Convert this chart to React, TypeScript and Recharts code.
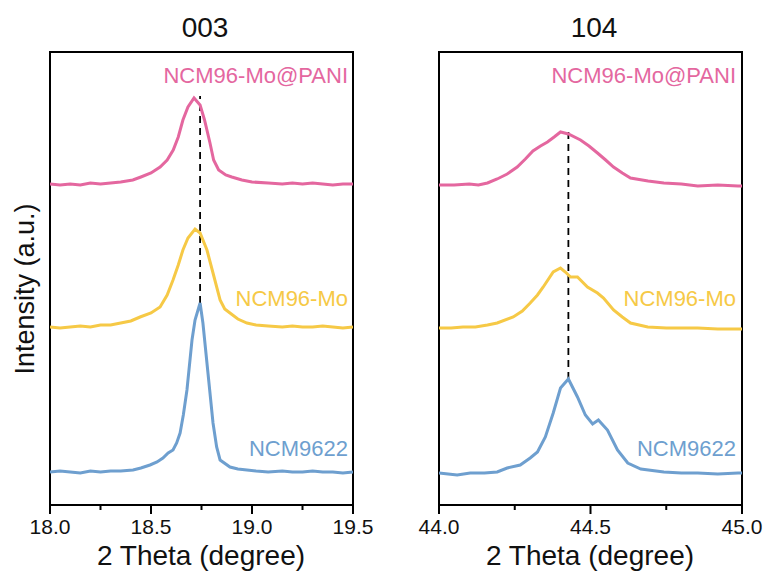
import React from "react";
import { LineChart, Line, XAxis, YAxis, ReferenceLine, ReferenceArea } from "recharts";

// 2θ (degree), intensity (a.u., stacked with offsets)
const pink003: [number, number][] = [
  [18.0, 321], [18.05, 320], [18.1, 321], [18.15, 320], [18.2, 322], [18.25, 321], [18.3, 322],
  [18.35, 323], [18.41, 325], [18.45, 328], [18.5, 332], [18.545, 338], [18.58, 345], [18.61, 355],
  [18.635, 368], [18.658, 385], [18.683, 398], [18.713, 407], [18.743, 400], [18.765, 385],
  [18.792, 362], [18.81, 345], [18.835, 335], [18.87, 330], [18.9, 328], [18.95, 325], [19.0, 323],
  [19.08, 322], [19.15, 321], [19.2, 322], [19.25, 321], [19.3, 322], [19.35, 321], [19.4, 320],
  [19.45, 321], [19.5, 321],
];
const yellow003: [number, number][] = [
  [18.0, 178], [18.05, 177], [18.1, 178], [18.15, 179], [18.2, 178], [18.25, 180], [18.3, 180],
  [18.35, 182], [18.4, 184], [18.446, 188], [18.5, 192], [18.545, 198], [18.58, 210], [18.609, 225],
  [18.635, 240], [18.658, 255], [18.683, 267], [18.718, 276], [18.743, 272], [18.777, 255],
  [18.807, 232], [18.842, 205], [18.865, 196], [18.891, 192], [18.93, 186], [18.975, 182],
  [19.02, 180], [19.08, 179], [19.15, 178], [19.2, 179], [19.25, 178], [19.3, 178], [19.35, 179],
  [19.4, 178], [19.45, 177], [19.5, 178],
];
const blue003: [number, number][] = [
  [18.0, 33], [18.05, 34], [18.1, 33], [18.15, 32], [18.2, 34], [18.25, 33], [18.3, 34], [18.35, 34],
  [18.411, 35], [18.45, 37], [18.495, 40], [18.53, 43], [18.559, 47], [18.585, 52], [18.609, 55],
  [18.627, 62], [18.644, 72], [18.66, 90], [18.678, 115], [18.703, 165], [18.718, 185], [18.743, 202],
  [18.757, 182], [18.782, 132], [18.807, 82], [18.825, 58], [18.842, 45], [18.891, 38], [18.93, 36],
  [18.975, 35], [19.02, 34], [19.08, 33], [19.15, 34], [19.2, 33], [19.25, 33], [19.3, 34],
  [19.35, 33], [19.4, 33], [19.45, 32], [19.5, 33],
];

const pink104: [number, number][] = [
  [44.0, 320], [44.05, 320], [44.1, 321], [44.13, 320], [44.16, 322], [44.192, 326], [44.225, 331],
  [44.258, 338], [44.285, 346], [44.31, 354], [44.335, 359], [44.358, 363], [44.38, 368], [44.401, 373],
  [44.427, 371], [44.467, 365], [44.495, 359], [44.523, 352], [44.55, 345], [44.576, 338],
  [44.605, 332], [44.632, 327], [44.69, 324], [44.742, 322], [44.8, 321], [44.854, 319],
  [44.92, 320], [44.987, 319], [45.0, 319],
];
const yellow104: [number, number][] = [
  [44.0, 177], [44.04, 177], [44.079, 178], [44.12, 178], [44.16, 180], [44.192, 182], [44.245, 188],
  [44.275, 194], [44.301, 202], [44.325, 210], [44.344, 218], [44.377, 233], [44.401, 237],
  [44.417, 233], [44.434, 228], [44.457, 228], [44.49, 218], [44.523, 212], [44.543, 207],
  [44.576, 195], [44.605, 188], [44.632, 182], [44.689, 178], [44.75, 177], [44.854, 177],
  [44.92, 176], [44.987, 176], [45.0, 176],
];
const blue104: [number, number][] = [
  [44.0, 32], [44.03, 31], [44.06, 30], [44.103, 32], [44.15, 32], [44.192, 33], [44.225, 37],
  [44.268, 40], [44.301, 47], [44.325, 53], [44.351, 68], [44.377, 92], [44.401, 117], [44.427, 126],
  [44.457, 108], [44.483, 90], [44.507, 81], [44.526, 85], [44.556, 75], [44.589, 55], [44.623, 42],
  [44.666, 36], [44.742, 33], [44.8, 32], [44.854, 32], [44.92, 31], [44.987, 32], [45.0, 32],
];

const ticks003 = [18.0, 18.25, 18.5, 18.75, 19.0, 19.25, 19.5];
const ticks104 = [44.0, 44.25, 44.5, 44.75, 45.0];
const peak003 = { x: 18.743, from: 202, to: 409 };
const peak104 = { x: 44.427, from: 126, to: 373 };
const seriesNames = ["NCM96-Mo@PANI", "NCM96-Mo", "NCM9622"];

const PINK = "#E4679F";
const YELLOW = "#F6C946";
const BLUE = "#6E9FCF";
const FONT = "'Liberation Sans', Arial, sans-serif";
const Y_MAX = 453;

const toPts = (arr: [number, number][]) => arr.map(([x, y]) => ({ x, y }));

function AxisTick(props: any) {
  const { x, y, payload } = props;
  const v: number = payload.value;
  const major = Math.abs(v * 2 - Math.round(v * 2)) < 1e-6;
  return (
    <g>
      <line x1={x} x2={x} y1={y} y2={y + (major ? 9 : 5)} stroke="#000" strokeWidth={2} />
      {major && (
        <text x={x} y={y + 29} textAnchor="middle" fontSize={21} fontFamily={FONT} fill="#111">
          {v.toFixed(1)}
        </text>
      )}
    </g>
  );
}

interface PanelProps {
  left: number;
  width: number;
  domain: [number, number];
  ticks: number[];
  series: [number, number][][];
  peak: { x: number; from: number; to: number };
}

function Panel({ left, width, domain, ticks, series, peak }: PanelProps) {
  const colors = [PINK, YELLOW, BLUE];
  return (
    <div style={{ position: "absolute", left, top: 0 }}>
      <LineChart width={width} height={576} margin={{ top: 52, right: width - 353, bottom: 31, left: 50 }}>
        <XAxis
          type="number"
          dataKey="x"
          domain={domain}
          ticks={ticks}
          interval={0}
          allowDataOverflow
          height={40}
          tickLine={false}
          tickSize={0}
          tickMargin={0}
          axisLine={{ stroke: "#000", strokeWidth: 2 }}
          tick={<AxisTick />}
        />
        <YAxis type="number" domain={[0, Y_MAX]} hide allowDataOverflow />
        <ReferenceArea
          x1={domain[0]}
          x2={domain[1]}
          y1={0}
          y2={Y_MAX}
          fill="none"
          stroke="#000"
          strokeWidth={2}
          ifOverflow="visible"
        />
        <ReferenceLine
          segment={[{ x: peak.x, y: peak.from }, { x: peak.x, y: peak.to }]}
          stroke="#000"
          strokeWidth={1.8}
          strokeDasharray="7 5"
        />
        {series.map((s, i) => (
          <Line
            key={i}
            data={toPts(s)}
            dataKey="y"
            type="linear"
            stroke={colors[i]}
            strokeWidth={3}
            dot={false}
            isAnimationActive={false}
          />
        ))}
      </LineChart>
    </div>
  );
}

export default function App() {
  const colors = [PINK, YELLOW, BLUE];
  const labelY = [83, 306, 456];
  return (
    <div style={{ position: "absolute", left: 0, top: 0, width: 766, height: 576, background: "#fff", fontFamily: FONT }}>
      <Panel left={0} width={383} domain={[18, 19.5]} ticks={ticks003} series={[pink003, yellow003, blue003]} peak={peak003} />
      <Panel left={389} width={382} domain={[44, 45]} ticks={ticks104} series={[pink104, yellow104, blue104]} peak={peak104} />
      <svg width={766} height={576} style={{ position: "absolute", left: 0, top: 0, pointerEvents: "none" }}>
        <text x={205} y={37} textAnchor="middle" fontSize={28} fill="#111">003</text>
        <text x={594} y={37} textAnchor="middle" fontSize={28} fill="#111">104</text>
        <text x={201} y={565} textAnchor="middle" fontSize={28} fill="#111">2 Theta (degree)</text>
        <text x={590} y={565} textAnchor="middle" fontSize={28} fill="#111">2 Theta (degree)</text>
        <text x={34} y={289} textAnchor="middle" fontSize={27} fill="#111" transform="rotate(-90 34 289)">
          Intensity (a.u.)
        </text>
        {seriesNames.map((n, i) => (
          <text key={"l" + i} x={348} y={labelY[i]} textAnchor="end" fontSize={22} fill={colors[i]}>{n}</text>
        ))}
        {seriesNames.map((n, i) => (
          <text key={"r" + i} x={736} y={labelY[i]} textAnchor="end" fontSize={22} fill={colors[i]}>{n}</text>
        ))}
      </svg>
    </div>
  );
}
